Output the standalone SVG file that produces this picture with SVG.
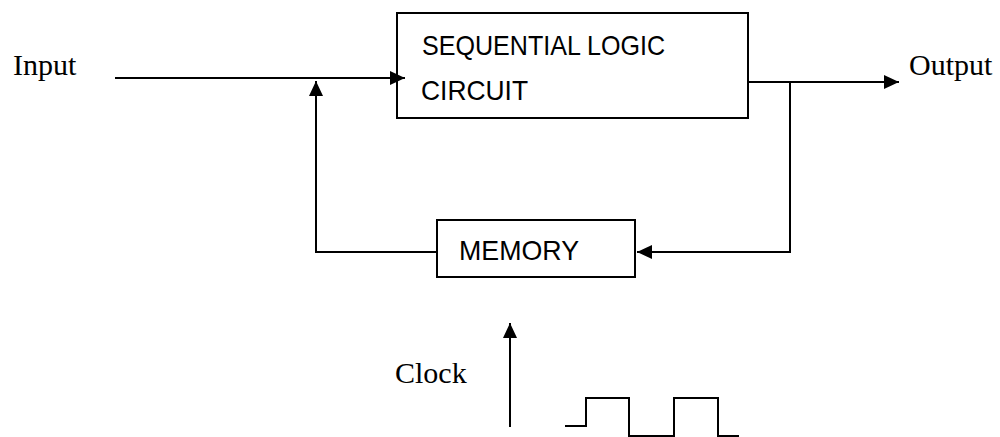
<svg xmlns="http://www.w3.org/2000/svg" width="1000" height="437" viewBox="0 0 1000 437">
<style>
.ln{fill:none;stroke:#000;stroke-width:2}
.box{fill:#fff;stroke:#000;stroke-width:2}
.serif{font-family:"Liberation Serif","Times New Roman",serif;font-size:30px;fill:#000}
.sans{font-family:"Liberation Sans",Arial,sans-serif;font-size:28px;fill:#000}
</style>
<defs>
<marker id="ah" viewBox="0 0 15 14" refX="15" refY="7" markerWidth="15" markerHeight="14" markerUnits="userSpaceOnUse" orient="auto">
<path d="M0,0 L15,7 L0,14 Z" fill="#000"/>
</marker>
</defs>
<rect width="1000" height="437" fill="#fff"/>
<g id="slc">
<rect class="box" x="397" y="13" width="351" height="105"/>
<text class="sans" x="422" y="55" textLength="243" lengthAdjust="spacingAndGlyphs">SEQUENTIAL LOGIC</text>
<text class="sans" x="421" y="100" textLength="107" lengthAdjust="spacingAndGlyphs">CIRCUIT</text>
</g>
<g id="memory">
<rect class="box" x="437" y="220" width="198" height="57"/>
<text class="sans" x="459" y="260" textLength="120" lengthAdjust="spacingAndGlyphs">MEMORY</text>
</g>
<g id="input"><text class="serif" x="13" y="75">Input</text></g>
<g id="output"><text class="serif" x="909" y="75">Output</text></g>
<g id="clock">
<text class="serif" x="395" y="383">Clock</text>
<polyline class="ln" points="565,426 586,426 586,398 629,398 629,436 674,436 674,398 718,398 718,436 739,436"/>
</g>
<g id="connectors">
<line class="ln" x1="115" y1="78" x2="405" y2="78" marker-end="url(#ah)"/>
<polyline class="ln" points="437,252 316,252 316,81" marker-end="url(#ah)"/>
<line class="ln" x1="748" y1="82" x2="899" y2="82" marker-end="url(#ah)"/>
<polyline class="ln" points="790,82 790,252 637,252" marker-end="url(#ah)"/>
<line class="ln" x1="510" y1="427" x2="510" y2="323" marker-end="url(#ah)"/>
</g>
</svg>
